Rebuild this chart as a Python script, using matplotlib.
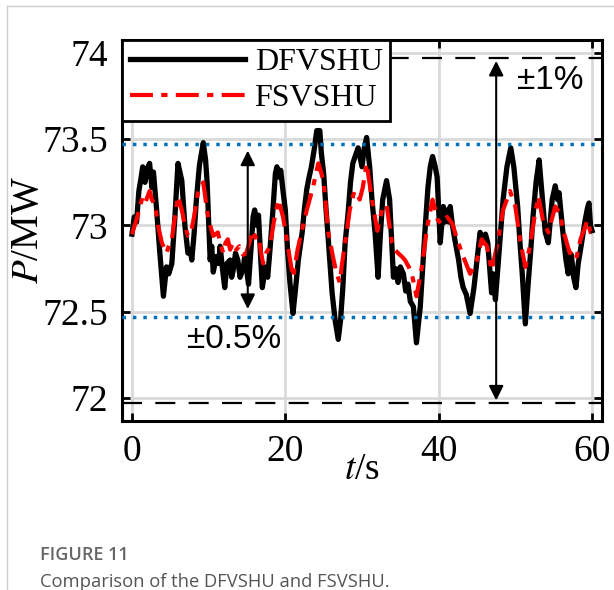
import numpy as np
import matplotlib.pyplot as plt
from matplotlib.lines import Line2D

plt.rcParams['font.family'] = ['Liberation Serif', 'DejaVu Serif']
plt.rcParams['mathtext.fontset'] = 'stix'

# DFVSHU (black)
t_df = [0.0, 0.3, 0.6, 0.9, 1.2, 1.4, 1.7, 2.0, 2.3, 2.6, 2.8, 3.2, 3.6, 3.9, 4.1, 4.5, 4.8, 5.2,
        5.6, 6.0, 6.3, 6.5, 6.9, 7.3, 7.6, 7.8, 8.1, 8.4, 8.8, 9.3, 9.6, 9.8, 10.2, 10.4, 10.6,
        11.0, 11.3, 11.5, 11.8, 12.1, 12.4, 12.8, 13.0, 13.2, 13.5, 13.8, 14.1, 14.5, 14.7, 14.9,
        15.2, 15.5, 15.8, 16.0, 16.3, 16.5, 16.8, 17.0, 17.4, 17.7, 18.0, 18.4, 18.7, 18.9, 19.2,
        19.4, 19.7, 20.0, 20.3, 20.6, 21.0, 21.3, 21.7, 22.2, 22.5, 22.8, 23.1, 23.4, 23.8, 24.1,
        24.5, 24.7, 25.0, 25.3, 25.6, 26.1, 26.5, 26.9, 27.2, 27.5, 27.8, 28.2, 28.5, 28.8, 29.1,
        29.5, 30.0, 30.3, 30.6, 31.0, 31.3, 31.7, 32.1, 32.4, 32.7, 33.2, 33.6, 34.1, 34.4, 34.7,
        35.0, 35.4, 35.7, 36.0, 36.3, 36.7, 37.1, 37.6, 37.9, 38.2, 38.6, 38.9, 39.2, 39.5, 39.8,
        40.2, 40.6, 40.8, 41.1, 41.3, 41.5, 41.8, 42.1, 42.6, 42.9, 43.2, 43.6, 44.1, 44.6, 45.0,
        45.4, 45.8, 46.1, 46.4, 46.9, 47.1, 47.4, 47.8, 48.1, 48.4, 48.9, 49.4, 49.8, 50.3, 50.6,
        50.9, 51.3, 51.7, 52.0, 52.3, 52.7, 53.1, 53.4, 53.9, 54.3, 54.8, 55.2, 55.5, 55.7, 56.2,
        56.6, 56.9, 57.1, 57.3, 57.6, 57.9, 58.2, 58.5, 59.1, 59.4, 59.6, 59.8, 60.0]
p_df = [72.95, 73.05, 73.02, 73.20, 73.28, 73.34, 73.25, 73.33, 73.36, 73.22, 73.31, 73.10, 72.86,
        72.70, 72.59, 72.76, 72.72, 72.78, 73.05, 73.36, 73.30, 73.26, 73.00, 72.84, 72.86, 72.80,
        72.95, 73.15, 73.35, 73.48, 73.38, 73.25, 72.80, 72.88, 72.73, 72.82, 72.78, 72.88, 72.75,
        72.64, 72.78, 72.80, 72.70, 72.74, 72.84, 72.80, 72.70, 72.75, 72.82, 72.76, 72.66, 72.85,
        73.05, 73.09, 73.00, 73.06, 72.80, 72.64, 72.76, 72.70, 72.86, 73.10, 73.30, 73.34, 73.28,
        73.32, 73.20, 73.09, 72.85, 72.67, 72.49, 72.62, 72.80, 72.96, 73.10, 73.21, 73.28, 73.34,
        73.45, 73.55, 73.55, 73.42, 73.30, 73.10, 72.92, 72.61, 72.45, 72.34, 72.45, 72.64, 72.90,
        73.08, 73.25, 73.36, 73.40, 73.45, 73.34, 73.45, 73.51, 73.34, 73.15, 72.96, 72.70, 72.95,
        73.15, 73.26, 73.15, 72.70, 72.75, 72.67, 72.76, 72.72, 72.62, 72.66, 72.56, 72.53, 72.32,
        72.53, 72.75, 72.96, 73.22, 73.34, 73.40, 73.35, 73.28, 72.90, 73.11, 73.02, 73.09, 73.02,
        73.11, 73.00, 72.92, 72.80, 72.70, 72.64, 72.60, 72.49, 72.64, 72.80, 72.96, 72.90, 72.95,
        72.90, 72.61, 72.72, 72.57, 72.80, 72.98, 73.15, 73.34, 73.45, 73.34, 73.11, 72.90, 72.72,
        72.43, 72.68, 72.85, 73.05, 73.25, 73.38, 73.22, 72.96, 72.90, 73.15, 73.23, 73.15, 73.19,
        72.96, 72.80, 72.72, 72.84, 72.83, 72.70, 72.64, 72.78, 72.86, 73.03, 73.10, 73.13, 73.00,
        72.97]

# FSVSHU (red)
t_fs = [0.0, 0.5, 1.0, 1.4, 1.8, 2.3, 2.6, 3.0, 3.4, 3.9, 4.5, 4.8, 5.2, 5.6, 6.0, 6.5, 6.9, 7.3,
        7.7, 8.1, 8.6, 9.3, 9.6, 10.0, 10.6, 11.2, 11.5, 11.9, 12.2, 12.5, 12.8, 13.2, 13.6, 14.0,
        14.5, 14.9, 15.3, 15.8, 16.1, 16.5, 16.8, 17.1, 17.5, 18.0, 18.5, 19.1, 19.7, 20.4, 21.0,
        21.6, 22.2, 22.8, 23.6, 24.3, 24.6, 25.0, 25.6, 26.3, 26.7, 27.1, 27.4, 27.8, 28.4, 29.0,
        29.4, 29.7, 30.1, 30.6, 30.9, 31.3, 32.0, 32.6, 33.2, 33.9, 34.3, 34.7, 35.2, 35.6, 36.1,
        36.5, 37.1, 37.4, 37.8, 38.5, 39.2, 39.9, 40.4, 41.1, 41.8, 42.4, 43.2, 44.1, 45.0, 45.6,
        46.3, 46.9, 47.6, 48.4, 49.3, 50.0, 50.6, 51.3, 51.9, 52.5, 53.0, 53.6, 54.3, 55.2, 55.8,
        56.2, 56.7, 57.1, 57.6, 58.0, 58.5, 59.0, 59.4, 59.8, 60.0]
p_fs = [72.95, 73.02, 73.10, 73.17, 73.14, 73.20, 73.15, 73.12, 73.00, 72.90, 72.84, 72.88, 72.92,
        73.05, 73.17, 73.09, 73.00, 72.94, 72.96, 73.05, 73.19, 73.25, 73.15, 73.03, 72.94, 72.96,
        72.90, 72.84, 72.90, 72.92, 72.86, 72.90, 72.86, 72.88, 72.83, 72.84, 72.90, 72.97, 72.93,
        72.94, 72.85, 72.78, 72.84, 72.88, 73.02, 73.15, 73.05, 72.86, 72.70, 72.86, 72.98, 73.09,
        73.22, 73.36, 73.32, 73.25, 72.96, 72.80, 72.72, 72.67, 72.78, 72.90, 73.09, 73.20, 73.18,
        73.15, 73.22, 73.36, 73.27, 73.15, 72.97, 73.09, 73.12, 72.90, 72.86, 72.84, 72.82, 72.80,
        72.76, 72.72, 72.59, 72.66, 72.76, 72.99, 73.15, 73.03, 73.01, 73.05, 73.01, 72.92, 72.82,
        72.72, 72.80, 72.92, 72.88, 72.74, 72.88, 73.09, 73.20, 73.11, 72.92, 72.76, 72.88, 73.05,
        73.17, 73.03, 72.96, 73.11, 73.07, 72.98, 72.90, 72.84, 72.86, 72.82, 72.92, 72.98, 73.03,
        72.96, 72.96]

band_1 = [73.97, 71.97]     # ±1% lines
band_05 = [73.47, 72.47]    # ±0.5% lines
xticks = [0, 20, 40, 60]
yticks = [72, 72.5, 73, 73.5, 74]
ytick_labels = ['72', '72.5', '73', '73.5', '74']

fig = plt.figure(figsize=(6.14, 5.90), dpi=100)
ax = fig.add_axes([122/614, 1-421/590, 480/614, 381/590])

ax.grid(True, color='#d9d9d9', lw=2)
ax.set_axisbelow(True)

for yv in band_1:
    ax.axhline(yv, color='black', lw=1.6, ls=(0, (9, 6)), zorder=2)

ax.plot(t_df, p_df, color='black', lw=3.8, label='DFVSHU', zorder=3)
ax.plot(t_fs, p_fs, color='red', lw=3, ls=(0, (5.5, 2, 1.5, 2)), label='FSVSHU', zorder=4)

for yv in band_05:
    ax.axhline(yv, color='#0072BD', lw=2.5, ls=(0, (1, 2)), zorder=5)

ax.annotate('', xy=(47.5, band_1[0]), xytext=(47.5, band_1[1]),
            arrowprops=dict(arrowstyle='<|-|>', color='black', lw=1.5, mutation_scale=22), zorder=6)
ax.annotate('', xy=(15.1, 73.45), xytext=(15.1, 72.50),
            arrowprops=dict(arrowstyle='<|-|>', color='black', lw=1.5, mutation_scale=22), zorder=6)

ax.text(54.6, 73.84, '±1%', family='Liberation Sans', fontsize=24, ha='center', va='center')
ax.text(13.3, 72.34, '±0.5%', family='Liberation Sans', fontsize=24, ha='center', va='center')

ax.set_xlim(-1.3, 61.3)
ax.set_ylim(71.867, 74.075)
ax.set_xticks(xticks)
ax.set_yticks(yticks)
ax.set_yticklabels(ytick_labels)
ax.tick_params(direction='in', length=6, width=2, labelsize=27, top=True, right=True, pad=10)
for s in ax.spines.values():
    s.set_linewidth(2.2)

ax.set_xlabel('$t$/s', fontsize=27, labelpad=-12)
ax.set_ylabel('$P$/MW', fontsize=28, labelpad=-3)

leg = ax.legend(loc='upper left', fontsize=23, handlelength=3.6, handletextpad=0.3,
                borderpad=0.25, labelspacing=0.2, borderaxespad=0, fancybox=False, framealpha=1)
leg.get_frame().set_edgecolor('black')
leg.get_frame().set_linewidth(2)
leg.set_zorder(10)

# panel border and caption
fig.add_artist(Line2D([7/614, 1], [1-6/590, 1-6/590], color='#cccccc', lw=1))
fig.add_artist(Line2D([7/614, 7/614], [0, 1-6/590], color='#cccccc', lw=1))
fig.text(40/614, 1-555/590, 'FIGURE 11', family='Open Sans', fontweight='semibold',
         fontsize=13, color='#666666', va='center')
fig.text(40/614, 1-582/590, 'Comparison of the DFVSHU and FSVSHU.', family='Open Sans',
         fontsize=13.2, color='#555555', va='center')

fig.savefig('out.png', dpi=100)
